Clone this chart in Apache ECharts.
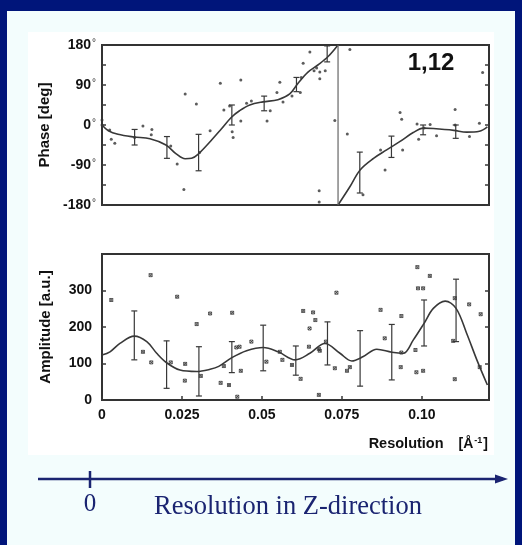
<!DOCTYPE html>
<html><head><meta charset="utf-8">
<script src="https://cdn.jsdelivr.net/npm/echarts@6/dist/echarts.min.js"></script>
<style>
html,body{margin:0;padding:0;background:#00157a;overflow:hidden;}
#inner{position:absolute;left:7px;top:11px;width:508px;height:534px;background:#f3fdfd;}
#fig{position:absolute;left:28px;top:32px;width:466px;height:423px;background:#ffffff;}
#chart{position:absolute;left:0;top:0;width:522px;height:545px;}
</style></head><body>
<div id="inner"></div><div id="fig"></div><div id="chart"></div>
<script>
// ---------- DATA ----------
const resTickLabels = ['0', '0.025', '0.05', '0.075', '0.10'];
const phaseTickLabels = ['-180', '-90', '0', '90', '180'];
const ampTickLabels = ['0', '100', '200', '300'];

// phase fit curve (before and after the 180 -> -180 wrap)
const phaseCurveA = [[0,0],[0.002,-13],[0.005,-21],[0.010,-27],[0.015,-31],[0.020,-45],[0.0232,-65],[0.026,-76],[0.028,-75],[0.030,-66],[0.034,-36],[0.0373,-9],[0.0404,17],[0.043,32],[0.0462,45],[0.0503,52],[0.055,57],[0.0587,70],[0.0613,94],[0.0644,119],[0.0675,135],[0.0707,154],[0.0738,180]];
const phaseCurveB = [[0.0738,-180],[0.0775,-139],[0.0807,-101],[0.0849,-75],[0.089,-56],[0.0932,-37],[0.0973,-17],[0.1005,-7],[0.1036,-8],[0.110,-12],[0.114,-16],[0.118,-14],[0.1205,-4]];
const phaseWrap = [[0.0738,180],[0.0738,-180]];
const phaseErrX = [0.0102,0.0203,0.0302,0.0406,0.0507,0.0608,0.0704,0.0806,0.0905,0.1004,0.1106];
const phaseErrLow = [-45,-75,-103,0,32,75,142,-153,-73,-22,-30];
const phaseErrHigh = [-10,-26,-21,45,65,107,178,-61,-25,0,0];
const phasePoints = [[0,11],[0,0],[0.0024,-11],[0.0029,-32],[0.004,-41],[0.0102,-28],[0.0128,-2],[0.0154,-22],[0.0156,-10],[0.0215,-47],[0.0235,-88],[0.0256,-145],[0.026,70],[0.0295,47],[0.0305,-62],[0.0338,-13],[0.037,94],[0.0381,34],[0.0399,43],[0.0407,-15],[0.041,-28],[0.0434,101],[0.0434,9],[0.0452,49],[0.0467,54],[0.0516,9],[0.0526,32],[0.0556,96],[0.0547,73],[0.0566,52],[0.0594,65],[0.062,73],[0.0623,107],[0.0629,139],[0.065,164],[0.0663,122],[0.0671,128],[0.0681,119],[0.0681,104],[0.0698,122],[0.0728,10],[0.0679,-148],[0.0679,-173],[0.0775,170],[0.0767,-20],[0.0816,-157],[0.0885,-101],[0.0871,-56],[0.0932,28],[0.0937,13],[0.094,-56],[0.0985,2],[0.099,-32],[0.1007,-7],[0.1026,1],[0.1046,-24],[0.1104,35],[0.1104,0],[0.1149,-26],[0.118,4],[0.119,118]];

// amplitude fit curve, error bars, points
const ampCurve = [[0,123],[0.0025,132],[0.0056,155],[0.0101,175],[0.014,160],[0.0171,128],[0.0202,102],[0.0244,82],[0.0296,78],[0.0338,84],[0.0365,92],[0.0406,116],[0.0452,135],[0.0504,144],[0.0551,132],[0.0604,110],[0.065,128],[0.0697,155],[0.0744,128],[0.0781,107],[0.0817,119],[0.0859,139],[0.0906,131],[0.0942,128],[0.0973,164],[0.1007,210],[0.1036,251],[0.1073,271],[0.1107,251],[0.114,183],[0.1172,110],[0.1205,41]];
const ampErrX = [0.0101,0.0202,0.0303,0.0406,0.0504,0.0606,0.0705,0.0807,0.0906,0.1007,0.1107];
const ampErrLow = [110,32,11,75,80,68,96,38,55,148,160];
const ampErrHigh = [244,162,146,160,205,148,214,190,207,274,331];
const ampPoints = [[0.0029,274],[0.0152,342],[0.0128,132],[0.0154,103],[0.0215,103],[0.0235,283],[0.026,99],[0.0259,53],[0.0296,208],[0.0309,66],[0.0338,237],[0.0381,93],[0.0371,47],[0.0397,41],[0.0407,239],[0.0423,9],[0.042,144],[0.043,146],[0.0434,80],[0.0467,160],[0.0514,105],[0.0556,132],[0.0564,110],[0.0594,96],[0.0621,58],[0.0629,244],[0.066,240],[0.0667,219],[0.0649,196],[0.0647,146],[0.0678,140],[0.0681,135],[0.0678,14],[0.07,160],[0.0728,87],[0.0733,294],[0.0766,80],[0.0775,90],[0.0871,247],[0.0884,169],[0.0936,230],[0.0934,90],[0.0936,130],[0.098,137],[0.0983,76],[0.0986,364],[0.0988,306],[0.1004,306],[0.1004,80],[0.1025,340],[0.1103,279],[0.1098,162],[0.1103,57],[0.1148,262],[0.1181,90],[0.1184,235]];

// ---------- CHART ----------
const SANS = "'Liberation Sans', Arial, Helvetica, sans-serif";
const SERIF = "'Liberation Serif', 'Times New Roman', serif";
const NAVY = '#1a2471';
const INK = '#383838';
const XMAX = 0.121;

const phaseErr = phaseErrX.map((x, i) => [x, phaseErrLow[i], phaseErrHigh[i]]);
const ampErr = ampErrX.map((x, i) => [x, ampErrLow[i], ampErrHigh[i]]);

function errItem(params, api) {
  const x = api.value(0), lo = api.value(1), hi = api.value(2);
  const a = api.coord([x, lo]), b = api.coord([x, hi]);
  const w = 3;
  const st = { stroke: INK, lineWidth: 1.2 };
  return { type: 'group', children: [
    { type: 'line', shape: { x1: a[0], y1: a[1], x2: b[0], y2: b[1] }, style: st },
    { type: 'line', shape: { x1: a[0] - w, y1: a[1], x2: a[0] + w, y2: a[1] }, style: st },
    { type: 'line', shape: { x1: b[0] - w, y1: b[1], x2: b[0] + w, y2: b[1] }, style: st }
  ]};
}

const lblStyle = { fontFamily: SANS, fontWeight: 'bold', fontSize: 14, color: '#111' };
const tickStyle = { show: true, inside: true, length: 4, lineStyle: { color: INK, width: 1.5 } };

const chart = echarts.init(document.getElementById('chart'), null, { renderer: 'canvas' });
chart.setOption({
  animation: false,
  backgroundColor: 'transparent',
  grid: [
    { left: 102, top: 45, width: 387, height: 160, show: true, borderColor: '#333', borderWidth: 2, backgroundColor: 'transparent' },
    { left: 102, top: 254, width: 387, height: 146, show: true, borderColor: '#333', borderWidth: 2, backgroundColor: 'transparent' }
  ],
  xAxis: [
    { gridIndex: 0, type: 'value', min: 0, max: XMAX, interval: 0.025, axisLine: { show: false }, axisTick: { show: false }, axisLabel: { show: false }, splitLine: { show: false } },
    { gridIndex: 1, type: 'value', min: 0, max: XMAX, interval: 0.025, axisLine: { show: false }, axisTick: tickStyle, splitLine: { show: false },
      axisLabel: Object.assign({ margin: 8, showMaxLabel: false, formatter: v => { const i = Math.round(v / 0.025); return Math.abs(v - i * 0.025) < 1e-6 && resTickLabels[i] !== undefined ? resTickLabels[i] : ''; } }, lblStyle) }
  ],
  yAxis: [
    { gridIndex: 0, type: 'value', min: -180, max: 180, interval: 45, position: 'left', axisLine: { show: false }, axisTick: tickStyle, splitLine: { show: false },
      name: 'Phase [deg]', nameLocation: 'middle', nameRotate: 90, nameGap: 49, nameTextStyle: { fontFamily: SANS, fontWeight: 'bold', fontSize: 15, color: '#111' },
      axisLabel: { margin: 6, formatter: v => { const i = phaseTickLabels.indexOf(String(v)); return i >= 0 ? '{a|' + phaseTickLabels[i] + '}{b|°}' : ''; },
        rich: { a: { fontFamily: SANS, fontWeight: 'bold', fontSize: 14, color: '#111' }, b: { fontFamily: SANS, fontSize: 10, color: '#333', padding: [0, 0, 3, 1] } } } },
    { gridIndex: 0, type: 'value', min: -180, max: 180, interval: 45, position: 'right', axisLine: { show: false }, axisTick: tickStyle, axisLabel: { show: false }, splitLine: { show: false } },
    { gridIndex: 1, type: 'value', min: 0, max: 400, interval: 100, position: 'left', axisLine: { show: false }, axisTick: tickStyle, splitLine: { show: false },
      name: 'Amplitude [a.u.]', nameLocation: 'middle', nameRotate: 90, nameGap: 49, nameTextStyle: { fontFamily: SANS, fontWeight: 'bold', fontSize: 15, color: '#111' },
      axisLabel: Object.assign({ margin: 10, formatter: v => ampTickLabels[v / 100] !== undefined ? ampTickLabels[v / 100] : '' }, lblStyle) },
    { gridIndex: 1, type: 'value', min: 0, max: 400, interval: 100, position: 'right', axisLine: { show: false }, axisTick: tickStyle, axisLabel: { show: false }, splitLine: { show: false } }
  ],
  series: [
    { type: 'line', xAxisIndex: 0, yAxisIndex: 0, data: phaseCurveA, smooth: 0.35, showSymbol: false, lineStyle: { color: INK, width: 1.6 } },
    { type: 'line', xAxisIndex: 0, yAxisIndex: 0, data: phaseCurveB, smooth: 0.35, showSymbol: false, lineStyle: { color: INK, width: 1.6 } },
    { type: 'line', xAxisIndex: 0, yAxisIndex: 0, data: phaseWrap, showSymbol: false, lineStyle: { color: '#666', width: 1.2 } },
    { type: 'scatter', xAxisIndex: 0, yAxisIndex: 0, data: phasePoints, symbol: 'circle', symbolSize: 3, itemStyle: { color: '#333' } },
    { type: 'custom', xAxisIndex: 0, yAxisIndex: 0, data: phaseErr, renderItem: errItem, encode: { x: 0, y: [1, 2] } },
    { type: 'line', xAxisIndex: 1, yAxisIndex: 2, data: ampCurve, smooth: 0.35, showSymbol: false, lineStyle: { color: INK, width: 1.6 } },
    { type: 'scatter', xAxisIndex: 1, yAxisIndex: 2, data: ampPoints, symbol: 'path://M0,0L10,10M10,0L0,10M0,0L10,0L10,10L0,10Z', symbolSize: 3, itemStyle: { color: 'transparent', borderColor: '#333', borderWidth: 1 } },
    { type: 'custom', xAxisIndex: 1, yAxisIndex: 2, data: ampErr, renderItem: errItem, encode: { x: 0, y: [1, 2] } }
  ],
  graphic: [
    { type: 'text', style: { x: 431, y: 63, text: '1,12', textAlign: 'center', textVerticalAlign: 'middle', fontFamily: SANS, fontWeight: 'bold', fontSize: 24, fill: '#111' } },
    { type: 'text', style: { x: 488, y: 444, textAlign: 'right', textVerticalAlign: 'middle', text: '{a|Resolution}{s| }{b|[Å}{c|-1}{b|]}',
      rich: { a: { fontFamily: SANS, fontWeight: 'bold', fontSize: 14.5, fill: '#111' }, s: { width: 15 }, b: { fontFamily: SANS, fontWeight: 'bold', fontSize: 14, fill: '#111' }, c: { fontFamily: SANS, fontWeight: 'bold', fontSize: 9, fill: '#111', padding: [0, 1, 6, 1] } } } },
    { type: 'line', shape: { x1: 38, y1: 479, x2: 503, y2: 479 }, style: { stroke: NAVY, lineWidth: 2.5 } },
    { type: 'polygon', shape: { points: [[495, 474.5], [508, 479], [495, 483.5]] }, style: { fill: NAVY } },
    { type: 'line', shape: { x1: 90, y1: 471, x2: 90, y2: 488 }, style: { stroke: NAVY, lineWidth: 2.5 } },
    { type: 'text', style: { x: 90, y: 504, text: '0', textAlign: 'center', textVerticalAlign: 'middle', fontFamily: SERIF, fontSize: 25, fill: NAVY } },
    { type: 'text', style: { x: 288, y: 507, text: 'Resolution in Z-direction', textAlign: 'center', textVerticalAlign: 'middle', fontFamily: SERIF, fontSize: 26.5, fill: NAVY } }
  ]
});
</script></body></html>
